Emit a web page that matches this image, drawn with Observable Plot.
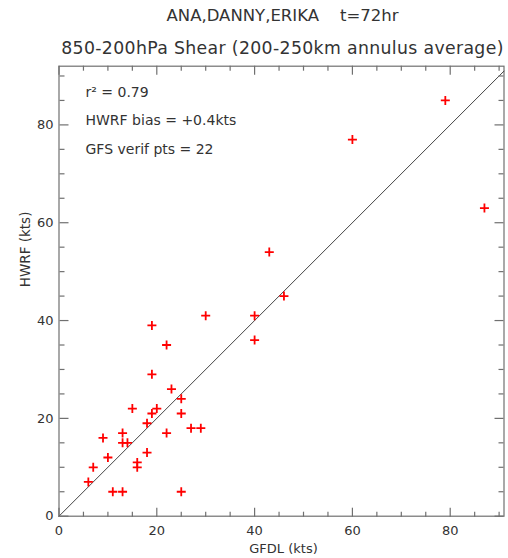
<!DOCTYPE html>
<html>
<head>
<meta charset="utf-8">
<script src="https://cdn.jsdelivr.net/npm/d3@7"></script>
<script src="https://cdn.jsdelivr.net/npm/@observablehq/plot@0.6"></script>
<style>
  html, body { margin: 0; padding: 0; background: #fff; }
  #chart svg { display: block; font-family: "DejaVu Sans", Verdana, sans-serif; }
</style>
</head>
<body>
<div id="chart"></div>
<script>
// ---- data ----
const gfdl = [6, 7, 9, 10, 11, 13, 13, 13, 14, 15, 16, 16, 18, 18, 19, 19, 19, 20, 22, 22, 23, 25, 25, 25, 27, 29, 30, 40, 40, 43, 46, 60, 79, 87];
const hwrf = [7, 10, 16, 12, 5, 5, 17, 15, 15, 22, 11, 10, 13, 19, 39, 29, 21, 22, 35, 17, 26, 24, 21, 5, 18, 18, 41, 41, 36, 54, 45, 77, 85, 63];

const xDomain = [0, 91];
const yDomain = [0, 92];
const majorTicks = [0, 20, 40, 60, 80];
const minorTicks = [5, 10, 15, 25, 30, 35, 45, 50, 55, 65, 70, 75, 85, 90];

const titleLines = ["ANA,DANNY,ERIKA    t=72hr", "850-200hPa Shear (200-250km annulus average)"];
const annotations = ["r\u00B2 = 0.79", "HWRF bias = +0.4kts", "GFS verif pts = 22"];
const xLabel = "GFDL (kts)";
const yLabel = "HWRF (kts)";

const points = gfdl.map((g, i) => ({gfdl: g, hwrf: hwrf[i]}));
const diagonal = xDomain.map(v => ({v}));

// layout
const W = 508, H = 558;
const mL = 58.5, mR = 4.5, mT = 65.7, mB = 42.3;
const plotW = W - mL - mR, plotH = H - mT - mB;

const plusSymbol = {
  draw(context, size) {
    const r = Math.sqrt(size / Math.PI);
    context.moveTo(-r, 0); context.lineTo(r, 0);
    context.moveTo(0, -r); context.lineTo(0, r);
  }
};

const axisColor = "#707070";
const textColor = "#333";

// inward tick marks on all four sides: Plot's own axis ticks, shifted to the opposite edge
function ticks(values, len) {
  const common = {tickSize: len, text: null, label: null, stroke: axisColor, strokeWidth: 1.2};
  return [
    Plot.axisX(values, {...common, anchor: "top", dy: plotH}),
    Plot.axisX(values, {...common, anchor: "bottom", dy: -plotH}),
    Plot.axisY(values, {...common, anchor: "right", dx: -plotW}),
    Plot.axisY(values, {...common, anchor: "left", dx: plotW})
  ];
}

const chart = Plot.plot({
  width: W,
  height: H,
  marginLeft: mL,
  marginRight: mR,
  marginTop: mT,
  marginBottom: mB,
  x: {domain: xDomain, axis: null},
  y: {domain: yDomain, axis: null},
  marks: [
    Plot.frame({stroke: axisColor, strokeWidth: 1.2}),
    // tick labels
    Plot.axisX(majorTicks, {anchor: "bottom", tickSize: 0, tickPadding: 10, fontSize: 13, fill: textColor, label: null}),
    Plot.axisY(majorTicks, {anchor: "left", tickSize: 0, tickPadding: 5.5, fontSize: 13, fill: textColor, label: null}),
    // 1:1 line
    Plot.line(diagonal, {x: "v", y: "v", stroke: "#444", strokeWidth: 1}),
    // points
    Plot.dot(points, {x: "gfdl", y: "hwrf", symbol: plusSymbol, r: 4.5, stroke: "#ff0000", strokeWidth: 1.8, fill: "none"}),
    // annotations
    ...annotations.map((a, i) => Plot.text([a], {text: d => d, frameAnchor: "top-left", textAnchor: "start", lineAnchor: "middle",
      dx: 26.5, dy: 26 + i * 28.8, fontSize: 14, fill: textColor})),
    // titles
    Plot.text([titleLines[0]], {text: d => d, frameAnchor: "top", lineAnchor: "middle", dy: -50, dx: 1, fontSize: 16.5, fill: textColor}),
    Plot.text([titleLines[1]], {text: d => d, frameAnchor: "top", lineAnchor: "middle", dy: -18, dx: 1, fontSize: 17.3, fill: textColor}),
    // axis titles
    Plot.text([xLabel], {text: d => d, frameAnchor: "bottom", lineAnchor: "middle", dy: 32.5, dx: 2, fontSize: 13, fill: textColor}),
    Plot.text([yLabel], {text: d => d, frameAnchor: "left", lineAnchor: "middle", rotate: -90, dx: -33.5, dy: -4, fontSize: 13.5, fill: textColor}),
    // ticks on top
    ...ticks(majorTicks, 9),
    ...ticks(minorTicks, 5)
  ]
});

document.getElementById("chart").appendChild(chart);
// slight letter spacing to mimic the wide plotting font of the original title
d3.select(chart).selectAll("text").filter(function() { return this.textContent === titleLines[1]; })
  .style("letter-spacing", "0.35px");
</script>
</body>
</html>
